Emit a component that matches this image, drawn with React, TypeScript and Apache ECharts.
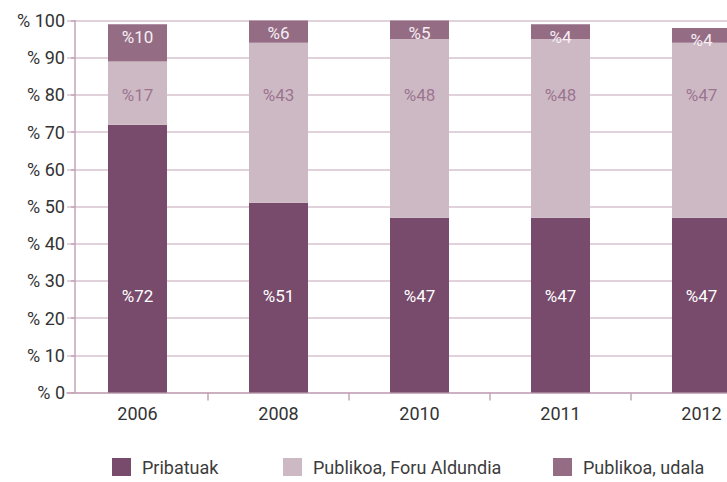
import React, { useEffect, useRef } from "react";
import * as echarts from "echarts";

const years = ["2006", "2008", "2010", "2011", "2012"];
const pribatuak = [72, 51, 47, 47, 47];
const foruAldundia = [17, 43, 48, 48, 47];
const udala = [10, 6, 5, 4, 4];
const seriesNames = ["Pribatuak", "Publikoa, Foru Aldundia", "Publikoa, udala"];

const C_DARK = "#784A6B";
const C_LIGHT = "#CDB9C4";
const C_MID = "#946D85";
const GRID_C = "#D6C2CE";
const AXIS_C = "#C4A6B8";
const FONT = "Roboto, 'Noto Sans', sans-serif";
const LIGHT_LABEL_LEVEL = 80;

export default function App() {
  const ref = useRef<HTMLDivElement>(null);
  useEffect(() => {
    if (!ref.current) return;
    const chart = echarts.init(ref.current, null, { renderer: "svg" });
    const legendBase = {
      orient: "horizontal",
      top: 458,
      padding: 0,
      icon: "rect",
      itemWidth: 19,
      itemHeight: 18,
      textStyle: { fontSize: 18, color: "#3c3c3c", fontFamily: FONT, padding: [0, 0, 0, 6] },
      selectedMode: false,
    };
    chart.setOption({
      animation: false,
      textStyle: { fontFamily: FONT },
      grid: { left: 67, top: 20.5, height: 372, width: 705 },
      legend: [
        { ...legendBase, left: 112, data: [seriesNames[0]] },
        { ...legendBase, left: 283, data: [seriesNames[1]] },
        { ...legendBase, left: 553, data: [seriesNames[2]] },
      ],
      xAxis: {
        type: "category",
        data: years,
        axisLine: { show: true, lineStyle: { color: AXIS_C, width: 1.5 } },
        axisTick: {
          show: true,
          length: 8,
          interval: (i: number) => i > 0,
          lineStyle: { color: AXIS_C, width: 1.5 },
        },
        axisLabel: { fontSize: 18, color: "#333", margin: 12, fontFamily: FONT },
      },
      yAxis: {
        type: "value",
        min: 0,
        max: 100,
        interval: 10,
        offset: -8,
        axisLine: { show: true, lineStyle: { color: AXIS_C, width: 1.5 } },
        axisTick: { show: true, length: 4, lineStyle: { color: AXIS_C, width: 1.5 } },
        splitLine: { show: true, lineStyle: { color: GRID_C, width: 1.5 } },
        axisLabel: {
          fontSize: 18,
          color: "#333",
          margin: 10,
          fontFamily: FONT,
          formatter: (v: number) => "% " + v,
        },
      },
      series: [
        {
          name: seriesNames[0],
          type: "bar",
          stack: "total",
          barWidth: 59,
          data: pribatuak,
          itemStyle: { color: C_DARK },
          label: {
            show: true,
            position: "insideBottom",
            distance: 88,
            color: "#ffffff",
            fontSize: 17,
            fontFamily: FONT,
            formatter: (p: any) => "%" + p.value,
          },
        },
        {
          name: seriesNames[1],
          type: "bar",
          stack: "total",
          barWidth: 59,
          data: foruAldundia,
          itemStyle: { color: C_LIGHT },
        },
        {
          name: seriesNames[2],
          type: "bar",
          stack: "total",
          barWidth: 59,
          data: udala,
          itemStyle: { color: C_MID },
          label: {
            show: true,
            position: "insideTop",
            distance: 4,
            color: "#f6eef3",
            fontSize: 17,
            fontFamily: FONT,
            formatter: (p: any) => "%" + p.value,
          },
        },
        {
          name: "foruLabels",
          type: "scatter",
          symbolSize: 0,
          silent: true,
          z: 10,
          data: years.map((y, i) => [y, LIGHT_LABEL_LEVEL, foruAldundia[i]]),
          encode: { x: 0, y: 1 },
          label: {
            show: true,
            position: "inside",
            color: "#8E6182",
            fontSize: 17,
            fontFamily: FONT,
            formatter: (p: any) => "%" + p.value[2],
          },
        },
      ],
    });
    return () => chart.dispose();
  }, []);
  return (
    <div
      style={{
        position: "fixed",
        left: 0,
        top: 0,
        width: 727,
        height: 482,
        overflow: "hidden",
        background: "#fff",
      }}
    >
      <div ref={ref} style={{ width: 790, height: 482 }} />
    </div>
  );
}
